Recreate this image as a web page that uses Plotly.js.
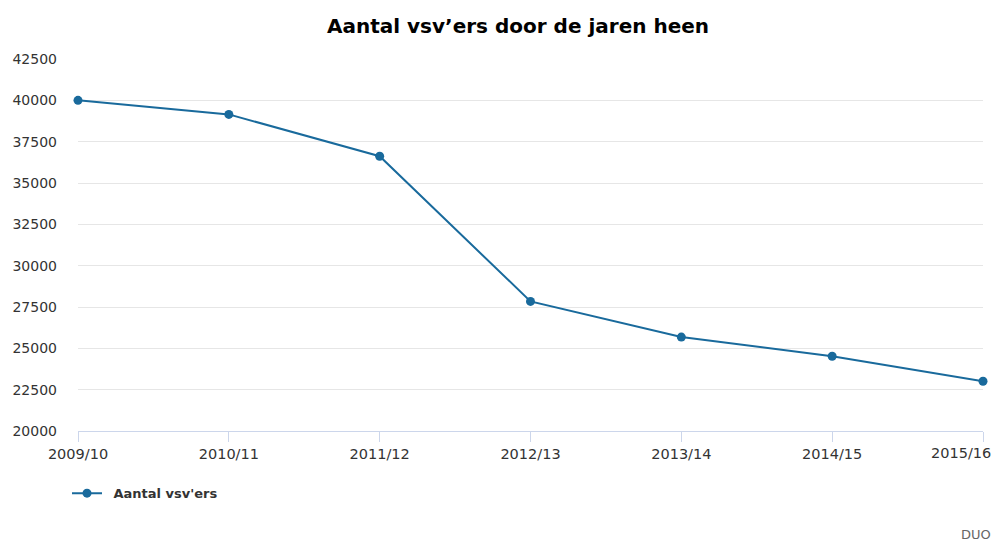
<!DOCTYPE html>
<html>
<head>
<meta charset="utf-8">
<script src="https://cdn.plot.ly/plotly-3.0.1.min.js"></script>
<style>html,body{margin:0;padding:0;background:#fff;}#chart{width:1000px;height:545px;}</style>
</head>
<body>
<div id="chart"></div>
<script>
const categories = ["2009/10", "2010/11", "2011/12", "2012/13", "2013/14", "2014/15", "2015/16"];
const seriesName = "Aantal vsv'ers";
const values = [40000, 39150, 36620, 27840, 25680, 24520, 23010];
const yTicks = [20000, 22500, 25000, 27500, 30000, 32500, 35000, 37500, 40000, 42500];

const lineColor = "#196a9c";
const font = "DejaVu Sans, Verdana, sans-serif";

const trace = {
  x: categories,
  y: values,
  name: "\u2002" + seriesName,
  type: "scatter",
  mode: "lines+markers",
  line: {color: lineColor, width: 2},
  marker: {color: lineColor, size: 9},
  cliponaxis: false,
  showlegend: true
};

// last category label is drawn right-aligned, as in the reference
const tickText = categories.map((c, i) => i === categories.length - 1 ? "" : c);

const layout = {
  width: 1000, height: 545,
  margin: {l: 78, r: 17, t: 59, b: 114},
  paper_bgcolor: "#fff", plot_bgcolor: "#fff",
  font: {family: font, size: 14, color: "#333"},
  title: {text: "<b>Aantal vsv’ers door de jaren heen</b>", font: {family: font, size: 20, color: "#000"}, x: 0.518, xref: "container", y: 0.952, yref: "container", yanchor: "middle"},
  xaxis: {
    type: "category", range: [0, 6], showgrid: false, zeroline: false,
    showline: true, linecolor: "#ccd6eb", linewidth: 1,
    ticks: "outside", ticklen: 10, tickcolor: "#ccd6eb",
    tickvals: categories, ticktext: tickText,
    tickfont: {family: font, size: 14.5, color: "#333"}
  },
  yaxis: {
    range: [20000, 42500], tickvals: yTicks, ticktext: yTicks.map(String),
    showgrid: true, gridcolor: "#e6e6e6", zeroline: false, showline: false,
    ticks: "", ticklabelstandoff: 20,
    tickfont: {family: font, size: 14, color: "#333"}
  },
  showlegend: true,
  legend: {
    orientation: "h", xref: "container", yref: "container", x: 0.067, y: 0.095,
    xanchor: "left", yanchor: "middle",
    font: {family: font, size: 13, color: "#333", weight: "bold"}
  },
  annotations: [
    {
      text: categories[categories.length - 1], xref: "paper", yref: "paper",
      x: 1.0105, y: -0.032, xanchor: "right", yanchor: "top", showarrow: false,
      font: {family: font, size: 14.5, color: "#333"}
    },
    {
      text: "DUO", xref: "paper", yref: "paper", x: 1.0105, y: -0.305,
      xanchor: "right", yanchor: "bottom", showarrow: false,
      font: {family: font, size: 13, color: "#666"}
    }
  ]
};

Plotly.newPlot("chart", [trace], layout, {displayModeBar: false, staticPlot: true});
</script>
</body>
</html>
